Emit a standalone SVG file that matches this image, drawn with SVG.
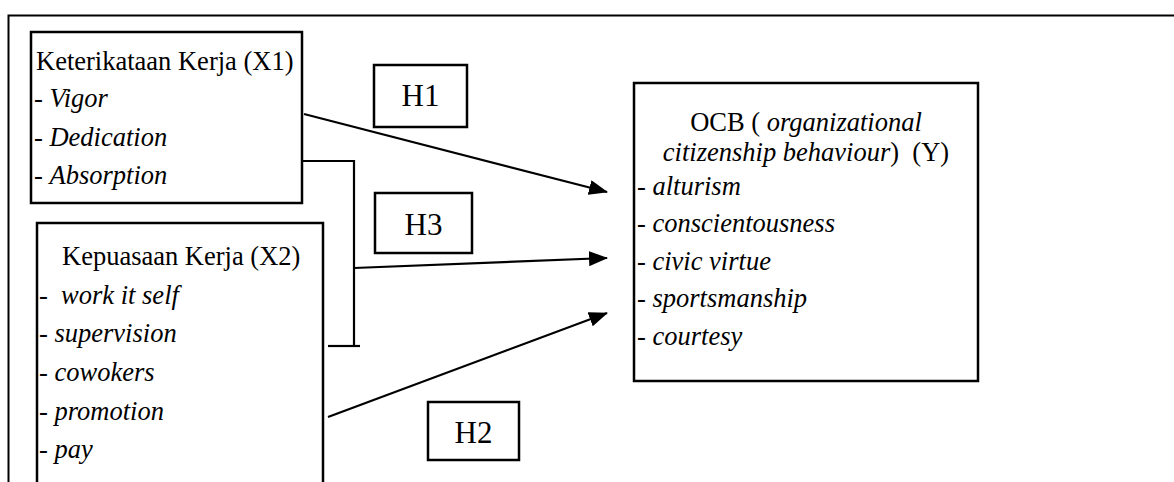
<svg xmlns="http://www.w3.org/2000/svg" width="1174" height="482" viewBox="0 0 1174 482">
<style>
.box{fill:#fff;stroke:#000;stroke-width:2.5}
.hbox{fill:#fff;stroke:#000;stroke-width:2.5}
.t{font-family:"Liberation Serif","Times New Roman",serif;font-size:26.5px;fill:#000}
.h{font-family:"Liberation Serif","Times New Roman",serif;font-size:31px;fill:#000;text-anchor:middle}
.i{font-style:italic}
.c{fill:none;stroke:#000;stroke-width:2.2}
</style>
<defs>
<marker id="ah" markerUnits="userSpaceOnUse" markerWidth="19" markerHeight="15" refX="18" refY="7.5" orient="auto">
<path d="M0,0 L19,7.5 L0,15 z" fill="#000"/>
</marker>
</defs>
<rect width="1174" height="482" fill="#fff"/>
<g id="frame">
<path d="M8.5,482 V15.5 H1174" fill="none" stroke="#000" stroke-width="2"/>
</g>
<g id="x1">
<rect class="box" x="31" y="32" width="271" height="171"/>
<text class="t" x="36" y="70">Keterikataan Kerja (X1)</text>
<text class="t" x="34" y="107">- <tspan class="i">Vigor</tspan></text>
<text class="t" x="34" y="146">- <tspan class="i">Dedication</tspan></text>
<text class="t" x="34" y="184">- <tspan class="i">Absorption</tspan></text>
</g>
<g id="x2">
<rect class="box" x="37" y="223" width="286" height="270"/>
<text class="t" x="62" y="265">Kepuasaan Kerja (X2)</text>
<text class="t" x="39" y="304" xml:space="preserve">-  <tspan class="i">work it self</tspan></text>
<text class="t" x="39" y="342">- <tspan class="i">supervision</tspan></text>
<text class="t" x="39" y="381">- <tspan class="i">cowokers</tspan></text>
<text class="t" x="39" y="420">- <tspan class="i">promotion</tspan></text>
<text class="t" x="39" y="458">- <tspan class="i">pay</tspan></text>
</g>
<g id="y">
<rect class="box" x="634" y="83" width="344" height="298"/>
<text class="t" x="806" y="131" text-anchor="middle">OCB ( <tspan class="i">organizational</tspan></text>
<text class="t" x="806" y="161" text-anchor="middle" xml:space="preserve"><tspan class="i">citizenship behaviour</tspan>)  (Y)</text>
<text class="t" x="637" y="195">- <tspan class="i">alturism</tspan></text>
<text class="t" x="637" y="232">- <tspan class="i">conscientousness</tspan></text>
<text class="t" x="637" y="270">- <tspan class="i">civic virtue</tspan></text>
<text class="t" x="637" y="307">- <tspan class="i">sportsmanship</tspan></text>
<text class="t" x="637" y="345">- <tspan class="i">courtesy</tspan></text>
</g>
<g id="h1">
<rect class="hbox" x="374" y="65" width="93" height="62"/>
<text class="h" x="420.5" y="106">H1</text>
</g>
<g id="h3">
<rect class="hbox" x="375" y="193" width="97" height="60"/>
<text class="h" x="423.5" y="235">H3</text>
</g>
<g id="h2">
<rect class="hbox" x="428" y="402" width="91" height="58"/>
<text class="h" x="473.5" y="443">H2</text>
</g>
<g id="connectors">
<line class="c" x1="304" y1="114" x2="607" y2="192" marker-end="url(#ah)"/>
<polyline class="c" points="302,161 354,161 354,346"/>
<line class="c" x1="328" y1="346" x2="360" y2="346"/>
<line class="c" x1="354" y1="268" x2="607" y2="258" marker-end="url(#ah)"/>
<line class="c" x1="328" y1="417" x2="607" y2="313" marker-end="url(#ah)"/>
</g>
</svg>
